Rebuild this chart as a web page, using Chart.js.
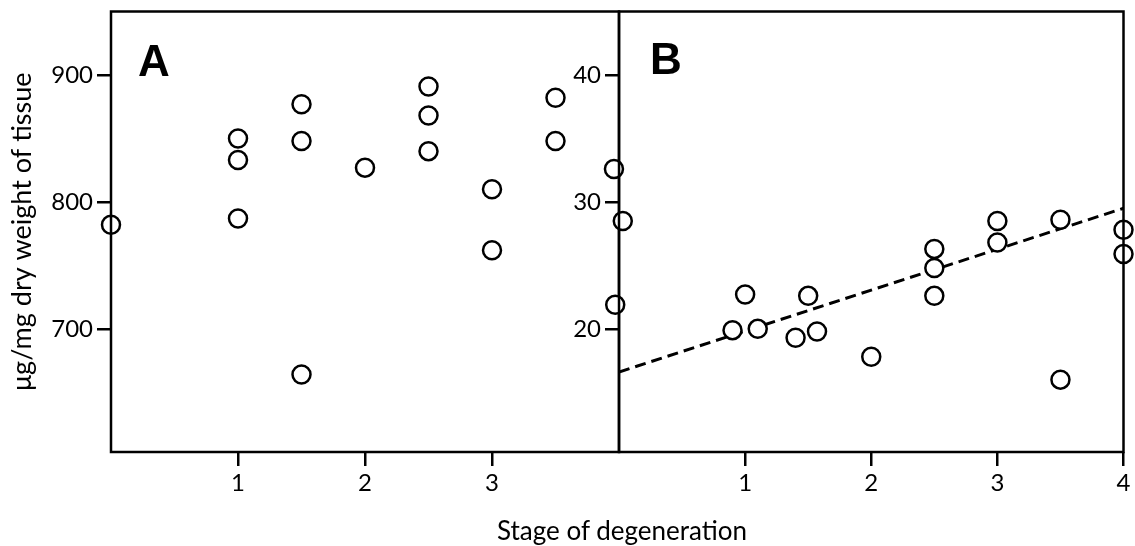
<!DOCTYPE html>
<html>
<head>
<meta charset="utf-8">
<script src="https://cdn.jsdelivr.net/npm/chart.js@4.4.1/dist/chart.umd.min.js"></script>
<style>
  body { margin: 0; background: #fff; }
  #wrap { position: relative; width: 1135px; height: 546px; overflow: hidden; }
  canvas { position: absolute; top: 0; }
  #chartA { left: 0; }
  #chartB { left: 540px; }
  #xtitle { position: absolute; left: 622px; top: 517px; transform: translateX(-50%);
            font: 26px Lato; line-height: 26px; white-space: nowrap; color: #000; }
</style>
</head>
<body>
<div id="wrap">
  <canvas id="chartA" width="640" height="546"></canvas>
  <canvas id="chartB" width="595" height="546"></canvas>
  <div id="xtitle">Stage of degeneration</div>
</div>
<script>
// panel A
const stageA = [0, 1, 1, 1, 1.5, 1.5, 1.5, 2, 2.5, 2.5, 2.5, 3, 3, 3.5, 3.5];
const valueA = [782, 850, 833, 787, 877, 848, 664, 827, 891, 868, 840, 810, 762, 882, 848];
const xTicksA = [1, 2, 3];
const yTicksA = [700, 800, 900];

// panel B
const stageB = [-0.04, 0.03, -0.03, 0.9, 1, 1.1, 1.4, 1.5, 1.57, 2, 2.5, 2.5, 2.5, 3, 3, 3.5, 3.5, 4, 4];
const valueB = [32.6, 28.5, 21.9, 19.9, 22.7, 20.0, 19.3, 22.6, 19.8, 17.8, 26.3, 24.8, 22.6, 28.5, 26.8, 28.6, 16.0, 27.8, 25.9];
const fitX = [0, 4];
const fitY = [16.6, 29.5];
const xTicksB = [1, 2, 3, 4];
const yTicksB = [20, 30, 40];

const yTitle = 'μg/mg dry weight of tissue';

Chart.defaults.font.family = 'Lato';
Chart.defaults.color = '#000';

const toXY = (xs, ys) => xs.map((x, i) => ({ x: x, y: ys[i] }));

// box round the plot area + big panel letter
const panelFrame = {
  id: 'panelFrame',
  afterDraw(chart, args, opts) {
    const { ctx, chartArea: a } = chart;
    ctx.save();
    ctx.strokeStyle = '#000';
    ctx.lineWidth = 2.5;
    ctx.strokeRect(a.left, a.top, a.right - a.left, a.bottom - a.top);
    ctx.fillStyle = '#000';
    ctx.font = 'bold 44px "Liberation Sans"';
    ctx.fillText(opts.letter, a.left + opts.dx, a.top + opts.dy);
    ctx.restore();
  }
};

function tickGrid() {
  return { display: true, drawOnChartArea: false, drawTicks: true, tickLength: 14, color: '#000', lineWidth: 2.5 };
}

function makeScales(xTicks, yTicks, yMin, yMax, yWidth, showTitle) {
  return {
    x: {
      type: 'linear', min: 0, max: 4,
      afterBuildTicks: s => { s.ticks = xTicks.map(v => ({ value: v })); },
      afterFit: s => { s.height = 94; s.paddingLeft = 0; s.paddingRight = 0; },
      ticks: { font: { size: 24 }, padding: 3, maxRotation: 0, autoSkip: false },
      grid: tickGrid(),
      border: { display: false }
    },
    y: {
      type: 'linear', min: yMin, max: yMax,
      afterBuildTicks: s => { s.ticks = yTicks.map(v => ({ value: v })); },
      afterFit: s => { s.width = yWidth; s.paddingTop = 0; s.paddingBottom = 0; },
      ticks: { font: { size: 24 }, padding: 4 },
      grid: tickGrid(),
      border: { display: false },
      title: { display: showTitle, text: yTitle, font: { size: 27 }, padding: { top: 6, bottom: 0 } }
    }
  };
}

const pointStyle = {
  pointRadius: 9, pointHoverRadius: 9, pointBorderWidth: 2.5,
  pointBackgroundColor: '#fff', pointBorderColor: '#000', showLine: false, clip: false
};

new Chart('chartA', {
  type: 'scatter',
  data: {
    datasets: [Object.assign({ label: 'A', data: toXY(stageA, valueA) }, pointStyle)]
  },
  options: {
    responsive: false, animation: false, devicePixelRatio: 1,
    layout: { padding: { top: 9, right: 21, bottom: 0, left: 0 } },
    scales: makeScales(xTicksA, yTicksA, 603, 950, 111, true),
    plugins: {
      legend: { display: false }, tooltip: { enabled: false },
      panelFrame: { letter: 'A', dx: 27, dy: 64 }
    }
  },
  plugins: [panelFrame]
});

new Chart('chartB', {
  type: 'scatter',
  data: {
    datasets: [
      Object.assign({ label: 'B', data: toXY(stageB, valueB), order: 0 }, pointStyle),
      {
        type: 'line', label: 'fit', data: toXY(fitX, fitY), order: 1,
        borderColor: '#000', borderWidth: 3, borderDash: [11, 6],
        pointRadius: 0, fill: false, tension: 0
      }
    ]
  },
  options: {
    responsive: false, animation: false, devicePixelRatio: 1,
    layout: { padding: { top: 9, right: 10, bottom: 0, left: 0 } },
    scales: makeScales(xTicksB, yTicksB, 10.3, 45, 79, false),
    plugins: {
      legend: { display: false }, tooltip: { enabled: false },
      panelFrame: { letter: 'B', dx: 31, dy: 62 }
    }
  },
  plugins: [panelFrame]
});
</script>
</body>
</html>
